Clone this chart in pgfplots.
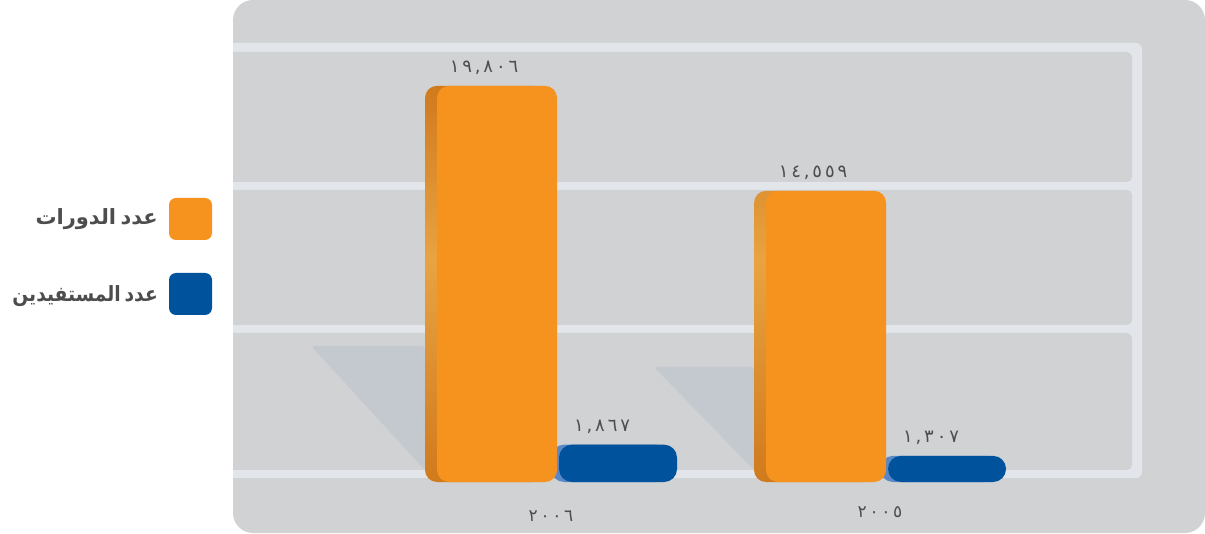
\documentclass[border=0pt]{standalone}
\usepackage{pgfplots}
\usepackage{pgfplotstable}
\pgfplotsset{compat=1.18}
\usepackage{fontspec}
\setmainfont{DejaVu Sans}
\newfontfamily\arabicfont[Script=Arabic,WordSpace=0.6]{DejaVu Sans}
\newfontfamily\digitfont[Script=Arabic,LetterSpace=16]{DejaVu Sans}
\TeXXeTstate=1

\definecolor{panel}{HTML}{D1D2D4}
\definecolor{gridline}{HTML}{E2E5EA}
\definecolor{shadow}{HTML}{C4C8CF}
\definecolor{barorange}{HTML}{F6921E}
\definecolor{darkorange}{HTML}{D07A1C}
\definecolor{striplight}{HTML}{E9A341}
\definecolor{barblue}{HTML}{00529C}
\definecolor{lightblue}{HTML}{5A87C6}
\definecolor{txt}{HTML}{4D4D4F}

\pgfdeclareverticalshading{strip}{100bp}{%
  color(0bp)=(darkorange); color(25bp)=(darkorange);
  color(53bp)=(striplight); color(75bp)=(darkorange);
  color(100bp)=(darkorange)}

% courses per year (0 = 2006, 1 = 2005)
\pgfplotstableread{
x y label
0 19806 ١٩,٨٠٦
1 14559 ١٤,٥٥٩
}\courses
% beneficiaries per year
\pgfplotstableread{
x y label
0 1867 ١,٨٦٧
1 1307 ١,٣٠٧
}\people

\begin{document}
\begin{tikzpicture}[x=1pt,y=1pt]
\useasboundingbox (0,0) rectangle (1205,533);

% grey card behind the chart
\fill[panel, rounded corners=20pt] (233,0) rectangle (1205,533);
\begin{scope}
  \clip[rounded corners=20pt] (233,0) rectangle (1205,533);
  \fill[gridline, rounded corners=6pt] (215,55) rectangle (1142,490);
  \fill[panel, rounded corners=5pt] (215,351) rectangle (1132,481);
  \fill[panel, rounded corners=5pt] (215,208) rectangle (1132,343);
  \fill[panel, rounded corners=5pt] (215,63) rectangle (1132,200);
\end{scope}

% soft shadows left of the orange bars
\fill[shadow, rounded corners=3pt] (311,187) -- (425,187) -- (425,63) -- cycle;
\fill[shadow, rounded corners=3pt] (654,166) -- (754,166) -- (754,63) -- cycle;

% legend
\fill[barorange, rounded corners=7pt] (169,293) rectangle (212,335);
\fill[barblue, rounded corners=7pt] (169,218) rectangle (212,260);
\node[anchor=east, text=txt, inner sep=0pt,
      font=\arabicfont\bfseries\fontsize{21}{25}\selectfont] at (158,314)
      {\beginR عدد الدورات\endR};
\node[anchor=east, text=txt, inner sep=0pt,
      font=\arabicfont\bfseries\fontsize{21}{25}\selectfont] at (158,237)
      {\scalebox{0.89}[1]{\beginR عدد المستفيدين\endR}};

\begin{axis}[
    at={(233pt,51pt)}, anchor=south west,
    scale only axis,
    width=904pt, height=435pt,
    xmin=-0.9666, xmax=1.781,
    ymin=0, ymax=21750,
    ybar,
    clip=false,
    axis line style={draw=none},
    major tick length=0pt,
    ytick=\empty,
    xtick={0,1},
    xticklabels={٢٠٠٦, \raisebox{7pt}{٢٠٠٥}},
    xticklabel style={font=\digitfont\fontsize{17}{20}\selectfont,
                      text=txt, anchor=center, yshift=-34pt},
    point meta=explicit symbolic,
]
  % back faces (3d edge)
  \addplot[fill=lightblue, draw=none, bar width=118pt, bar shift=59pt,
           rounded corners=13pt]
    table[x=x, y=y]{\people};
  \addplot[shading=strip, draw=none, bar width=120pt, bar shift=-66pt,
           rounded corners=12pt]
    table[x=x, y=y]{\courses};
  % front faces
  \addplot[fill=barorange, draw=none, bar width=120pt, bar shift=-54pt,
           rounded corners=12pt,
           nodes near coords,
           nodes near coords style={font=\digitfont\fontsize{18}{21}\selectfont,
                                    text=txt, anchor=south, yshift=8pt, xshift=-13pt}]
    table[x=x, y=y, meta=label]{\courses};
  \addplot[fill=barblue, draw=none, bar width=118pt, bar shift=67pt,
           rounded corners=13pt,
           nodes near coords,
           nodes near coords style={font=\digitfont\fontsize{18}{21}\selectfont,
                                    text=txt, anchor=south, yshift=8pt, xshift=-16pt}]
    table[x=x, y=y, meta=label]{\people};
\end{axis}
\end{tikzpicture}
\end{document}
